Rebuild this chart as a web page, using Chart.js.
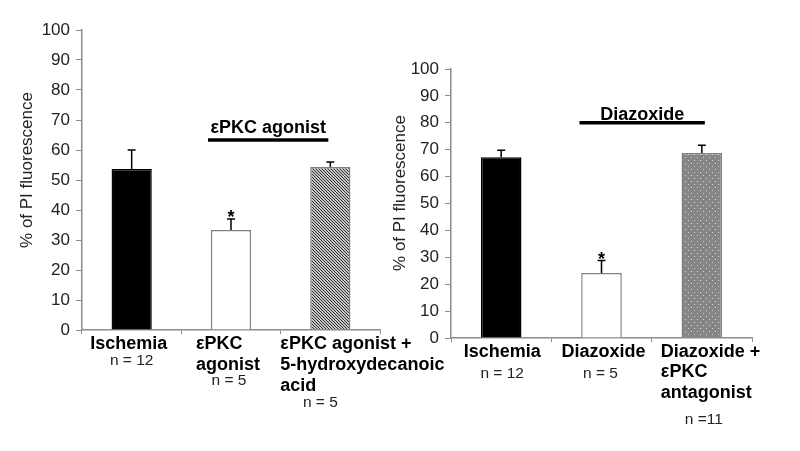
<!DOCTYPE html>
<html>
<head>
<meta charset="utf-8">
<script src="https://cdn.jsdelivr.net/npm/chart.js@4.4.0/dist/chart.umd.min.js"></script>
<style>
  html, body { margin: 0; padding: 0; background: #fff; }
  #wrap { position: relative; width: 800px; height: 451px; }
  #wrap canvas { position: absolute; left: 0; top: 0; }
</style>
</head>
<body>
<div id="wrap">
  <canvas id="leftChart" width="800" height="451"></canvas>
  <canvas id="rightChart" width="800" height="451"></canvas>
</div>
<script>
// ---- data ----
const yTitle = '% of PI fluorescence';

const leftCategories = ['Ischemia', 'εPKC agonist', 'εPKC agonist + 5-hydroxydecanoic acid'];
const leftLabelLines = [['Ischemia'], ['εPKC', 'agonist'], ['εPKC agonist +', '5-hydroxydecanoic', 'acid']];
const leftN = ['n = 12', 'n = 5', 'n = 5'];
const leftValues = [53.7, 33.3, 54.3];
const leftErrors = [6.3, 3.7, 1.7];
const leftStars = [false, true, false];
const leftBracket = 'εPKC agonist';

const rightCategories = ['Ischemia', 'Diazoxide', 'Diazoxide + εPKC antagonist'];
const rightLabelLines = [['Ischemia'], ['Diazoxide'], ['Diazoxide +', 'εPKC', 'antagonist']];
const rightN = ['n = 12', 'n = 5', 'n =11'];
const rightValues = [67.2, 24.2, 68.8];
const rightErrors = [2.6, 4.6, 2.9];
const rightStars = [false, true, false];
const rightBracket = 'Diazoxide';

const FONT = 'Arial, "Liberation Sans", Helvetica, sans-serif';
const AXIS_GREY = '#8c8c8c';

// fill patterns for the third bar
function hatchPattern() {
  const c = document.createElement('canvas');
  c.width = 3; c.height = 3;
  const g = c.getContext('2d');
  g.fillStyle = '#c4c4c4';
  g.fillRect(0, 0, 3, 3);
  g.fillStyle = '#333333';
  for (let i = 0; i < 3; i++) g.fillRect(i, i, 1, 1);
  return g.createPattern(c, 'repeat');
}

function dotPattern() {
  const c = document.createElement('canvas');
  c.width = 6; c.height = 6;
  const g = c.getContext('2d');
  g.fillStyle = '#868686';
  g.fillRect(0, 0, 6, 6);
  g.fillStyle = '#d6d6d6';
  g.fillRect(1, 1, 1, 1);
  g.fillRect(4, 4, 1, 1);
  return g.createPattern(c, 'repeat');
}

// error bars, stars, bracket, axis title and the two-style x labels
const annotPlugin = {
  id: 'annot',
  afterDatasetsDraw(chart, args, opts) {
    const ctx = chart.ctx;
    const y = chart.scales.y;
    const x = chart.scales.x;
    const meta = chart.getDatasetMeta(0);
    ctx.save();

    // error bars (upper only)
    ctx.strokeStyle = '#000';
    ctx.lineWidth = 1.5;
    meta.data.forEach((bar, i) => {
      const top = y.getPixelForValue(opts.values[i] + opts.errors[i]);
      ctx.beginPath();
      ctx.moveTo(bar.x, bar.y);
      ctx.lineTo(bar.x, top);
      ctx.moveTo(bar.x - 4, top);
      ctx.lineTo(bar.x + 4, top);
      ctx.stroke();
      if (opts.stars[i]) {
        ctx.fillStyle = '#000';
        ctx.font = 'bold 18px ' + FONT;
        ctx.textAlign = 'center';
        ctx.textBaseline = 'alphabetic';
        ctx.fillText('*', bar.x, top + 4);
      }
    });

    // bracket over the treated groups
    const b = opts.bracket;
    const bx1 = x.getPixelForValue(1) + b.dx1;
    const bx2 = x.getPixelForValue(2) + b.dx2;
    const by = y.getPixelForValue(b.level);
    ctx.lineWidth = 3.5;
    ctx.beginPath();
    ctx.moveTo(bx1, by);
    ctx.lineTo(bx2, by);
    ctx.stroke();
    ctx.fillStyle = '#000';
    ctx.font = 'bold 18px ' + FONT;
    ctx.textAlign = 'center';
    ctx.textBaseline = 'alphabetic';
    ctx.fillText(b.text, (bx1 + bx2) / 2, by - b.gap);

    // y axis title
    ctx.save();
    ctx.translate(opts.title.x, opts.title.y);
    ctx.rotate(-Math.PI / 2);
    ctx.font = '17px ' + FONT;
    ctx.fillStyle = '#222';
    ctx.textAlign = 'center';
    ctx.textBaseline = 'middle';
    ctx.fillText(yTitle, 0, 0);
    ctx.restore();

    // category labels: bold name lines + regular n line
    const base = chart.chartArea.bottom + 14;
    opts.lines.forEach((lines, i) => {
      const cx = x.getPixelForValue(i);
      const lay = opts.layout[i];
      ctx.font = 'bold 18px ' + FONT;
      ctx.fillStyle = '#000';
      ctx.textBaseline = 'middle';
      ctx.textAlign = lay.align;
      lines.forEach((t, k) => ctx.fillText(t, cx + lay.dx, base + k * lay.step));
      ctx.font = '15.5px ' + FONT;
      ctx.fillStyle = '#222';
      ctx.textAlign = 'center';
      ctx.fillText(opts.n[i], cx + lay.ndx, base + (lines.length - 1) * lay.step + lay.ngap);
    });
    ctx.restore();
  }
};

function makeChart(id, cfg) {
  return new Chart(document.getElementById(id), {
    type: 'bar',
    data: {
      labels: cfg.categories,
      datasets: [{
        data: cfg.values,
        backgroundColor: ['#000000', '#ffffff', cfg.pattern],
        borderColor: ['#000000', '#808080', '#808080'],
        borderWidth: 1.5,
        borderSkipped: 'bottom',
        barPercentage: 0.405,
        categoryPercentage: 1
      }]
    },
    options: {
      responsive: false,
      devicePixelRatio: 1,
      animation: false,
      layout: { padding: cfg.padding },
      plugins: {
        legend: { display: false },
        tooltip: { enabled: false },
        annot: cfg.annot
      },
      scales: {
        x: {
          offset: true,
          grid: { display: true, offset: true, drawOnChartArea: false, color: AXIS_GREY, tickLength: 4 },
          border: { color: AXIS_GREY, width: 1.5 },
          ticks: { display: false },
          afterFit: s => { s.height = cfg.xHeight; }
        },
        y: {
          min: 0,
          max: 100,
          ticks: { stepSize: 10, color: '#222', padding: 6, font: { family: FONT, size: 17 } },
          grid: { drawOnChartArea: false, color: AXIS_GREY, tickLength: 6 },
          border: { color: AXIS_GREY, width: 1.5 },
          afterFit: s => { s.width = 60; }
        }
      }
    },
    plugins: [annotPlugin]
  });
}

makeChart('leftChart', {
  categories: leftCategories,
  values: leftValues,
  pattern: hatchPattern(),
  padding: { left: 22, right: 420, top: 30, bottom: 0 },
  xHeight: 121,
  annot: {
    values: leftValues,
    errors: leftErrors,
    stars: leftStars,
    lines: leftLabelLines,
    n: leftN,
    bracket: { text: leftBracket, dx1: -23, dx2: -2, level: 63.3, gap: 7 },
    title: { x: 27, y: 170 },
    layout: [
      { align: 'center', dx: -3, step: 21, ndx: 0, ngap: 17 },
      { align: 'left', dx: -35, step: 21, ndx: -2, ngap: 16 },
      { align: 'left', dx: -50, step: 21, ndx: -10, ngap: 17 }
    ]
  }
});

makeChart('rightChart', {
  categories: rightCategories,
  values: rightValues,
  pattern: dotPattern(),
  padding: { left: 391, right: 48, top: 69, bottom: 0 },
  xHeight: 113,
  annot: {
    values: rightValues,
    errors: rightErrors,
    stars: rightStars,
    lines: rightLabelLines,
    n: rightN,
    bracket: { text: rightBracket, dx1: -22, dx2: 3, level: 80, gap: 3 },
    title: { x: 400, y: 193 },
    layout: [
      { align: 'center', dx: 1, step: 21, ndx: 1, ngap: 21.5 },
      { align: 'center', dx: 2, step: 21, ndx: -1, ngap: 21.5 },
      { align: 'left', dx: -41, step: 20.5, ndx: 2, ngap: 27 }
    ]
  }
});
</script>
</body>
</html>
